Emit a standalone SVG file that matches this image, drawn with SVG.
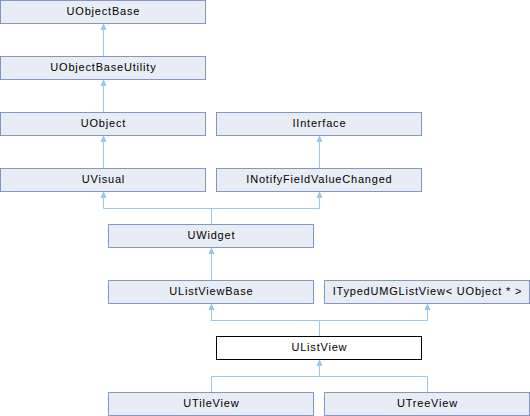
<svg xmlns="http://www.w3.org/2000/svg" width="530" height="416" viewBox="0 0 530 416">
<style>
.n rect{fill:#e8ecf5;stroke:#8197c8;stroke-width:1}
.n.cur rect{fill:#ffffff;stroke:#000000}
.n text{font-family:"Liberation Sans",Arial,sans-serif;font-size:11px;letter-spacing:0.8px;fill:#000;text-anchor:middle}
.e path{fill:none;stroke:#9ac8e8;stroke-width:1}
.e polygon{fill:#9ac8e8;stroke:#9ac8e8;stroke-width:1}
</style>
<rect width="530" height="416" fill="#ffffff"/>
<g class="e">
<path d="M103.5 56V24"/><polygon points="103.5,24.5 101,29.5 106,29.5"/>
<path d="M103.5 112V80"/><polygon points="103.5,80.5 101,85.5 106,85.5"/>
<path d="M103.5 168V136"/><polygon points="103.5,136.5 101,141.5 106,141.5"/>
<path d="M319.5 168V136"/><polygon points="319.5,136.5 317,141.5 322,141.5"/>
<path d="M211.5 224V208.5M103.5 208.5H319.5M103.5 208.5V192M319.5 208.5V192"/>
<polygon points="103.5,192.5 101,197.5 106,197.5"/><polygon points="319.5,192.5 317,197.5 322,197.5"/>
<path d="M211.5 280V248"/><polygon points="211.5,248.5 209,253.5 214,253.5"/>
<path d="M319.5 336V320.5M211.5 320.5H427.5M211.5 320.5V304M427.5 320.5V304"/>
<polygon points="211.5,304.5 209,309.5 214,309.5"/><polygon points="427.5,304.5 425,309.5 430,309.5"/>
<path d="M211.5 392V376.5M211.5 376.5H427.5M427.5 376.5V392M319.5 376.5V360"/>
<polygon points="319.5,360.5 317,365.5 322,365.5"/>
</g>
<g id="UObjectBase" class="n"><rect x="0.5" y="0.5" width="205" height="23"/><text x="103.4" y="15.3">UObjectBase</text></g>
<g id="UObjectBaseUtility" class="n"><rect x="0.5" y="56.5" width="205" height="23"/><text x="103.4" y="71.3">UObjectBaseUtility</text></g>
<g id="UObject" class="n"><rect x="0.5" y="112.5" width="205" height="23"/><text x="103.4" y="127.3">UObject</text></g>
<g id="IInterface" class="n"><rect x="216.5" y="112.5" width="205" height="23"/><text x="319.4" y="127.3">IInterface</text></g>
<g id="UVisual" class="n"><rect x="0.5" y="168.5" width="205" height="23"/><text x="103.4" y="183.3">UVisual</text></g>
<g id="INotifyFieldValueChanged" class="n"><rect x="216.5" y="168.5" width="205" height="23"/><text x="319.4" y="183.3">INotifyFieldValueChanged</text></g>
<g id="UWidget" class="n"><rect x="108.5" y="224.5" width="205" height="23"/><text x="211.4" y="239.3">UWidget</text></g>
<g id="UListViewBase" class="n"><rect x="108.5" y="280.5" width="205" height="23"/><text x="211.4" y="295.3">UListViewBase</text></g>
<g id="ITypedUMGListView" class="n"><rect x="324.5" y="280.5" width="205" height="23"/><text x="427.4" y="295.3">ITypedUMGListView&lt; UObject * &gt;</text></g>
<g id="UListView" class="n cur"><rect x="216.5" y="336.5" width="205" height="23"/><text x="319.4" y="351.3">UListView</text></g>
<g id="UTileView" class="n"><rect x="108.5" y="392.5" width="205" height="23"/><text x="211.4" y="407.3">UTileView</text></g>
<g id="UTreeView" class="n"><rect x="324.5" y="392.5" width="205" height="23"/><text x="427.4" y="407.3">UTreeView</text></g>
</svg>
